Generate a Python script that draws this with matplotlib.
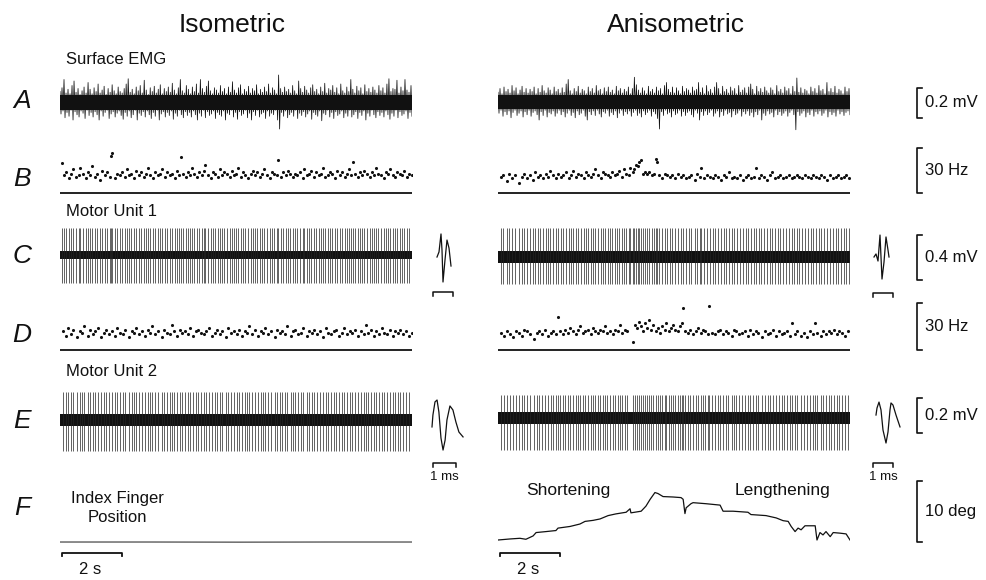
import numpy as np
import matplotlib
matplotlib.use("Agg")
import matplotlib.pyplot as plt

plt.rcParams['font.family'] = ['Liberation Sans', 'DejaVu Sans']

# ---------------- data ----------------
T = 11.73  # s, duration of each record

# Surface EMG stroke extremes (uV), isometric / anisometric
A_iso_up = [70,95,150,60,85,55,110,140,65,90,50,75,100,60,130,85,
            55,95,70,120,60,80,105,50,90,65,115,75,55,100,70,60,
            90,120,155,65,85,55,100,75,110,60,145,80,50,95,70,105,
            60,85,115,55,90,70,100,65,125,80,55,95,150,75,60,110,
            85,55,100,70,120,60,150,90,65,105,140,75,55,95,80,60,
            110,70,90,55,100,65,135,80,60,95,115,55,85,70,105,60,
            90,75,115,55,85,65,100,70,120,60,95,80,55,180,90,65,
            100,70,85,60,110,75,55,140,90,65,105,80,60,95,115,70,
            85,55,100,70,125,60,90,80,110,65,95,55,120,75,60,100,
            70,150,85,60,105,75,95,55,115,70,90,65,100,80,60,110,
            75,95,60,120,155,70,90,85,145,60,100,75,150,80,65,110]
A_iso_dn = [80,60,105,70,95,55,120,65,85,100,60,75,110,55,90,70,
            100,65,85,120,60,95,70,55,110,80,65,100,75,60,90,115,
            70,95,60,105,85,55,120,75,90,65,100,60,85,110,70,95,
            55,120,80,65,100,70,90,60,115,75,95,55,85,105,65,90,
            70,100,60,85,120,75,95,55,105,65,90,80,60,110,70,85,
            95,60,120,75,85,55,100,70,115,65,90,80,55,105,75,120,
            65,90,55,100,80,70,110,60,95,75,85,55,120,180,70,95,
            60,105,85,70,95,55,110,75,90,65,100,80,60,115,70,85,
            95,60,125,75,85,55,100,70,110,65,90,80,60,105,75,95,
            55,100,85,65,110,70,90,60,120,75,95,55,85,105,65,90,
            70,100,60,85,115,75,95,55,105,65,90,80,60,110,70,95]
A_aniso_up = [65,90,55,100,70,85,60,110,75,95,55,80,105,65,90,60,
              85,70,100,55,90,65,110,75,60,95,80,55,100,70,85,60,
              95,65,120,150,75,55,90,70,105,60,85,75,55,100,70,90,
              60,110,75,85,55,95,70,100,65,80,55,105,75,90,60,85,
              70,100,55,90,165,115,80,60,95,75,55,105,70,85,60,100,
              75,90,55,110,130,85,65,100,60,95,75,55,105,70,90,80,
              60,100,75,85,130,65,95,55,110,70,85,60,100,130,90,55,
              105,70,85,60,100,75,90,55,110,65,80,95,60,100,120,85,
              55,105,70,90,65,100,75,60,95,80,55,110,70,85,60,100,
              75,90,55,105,70,160,65,95,60,85,75,55,100,70,90,60,
              110,75,85,55,130,70,90,65,105,60,85,75,55,100,70,90]
A_aniso_dn = [75,55,95,65,85,60,105,70,55,90,75,60,100,65,85,55,
              95,70,60,85,120,65,90,55,100,70,80,60,95,75,55,85,
              65,100,75,55,90,70,105,60,85,75,55,95,120,65,85,60,
              90,55,80,100,65,75,55,95,70,85,60,105,75,55,90,65,
              80,60,95,70,55,90,75,100,60,85,70,55,95,65,80,110,
              180,65,90,55,80,70,100,60,85,75,55,95,65,90,70,60,
              85,100,55,75,120,65,90,60,85,70,55,95,75,60,100,65,
              90,55,80,70,100,60,85,75,55,95,65,80,60,90,70,100,
              65,85,55,120,75,90,60,80,70,100,55,85,65,90,75,60,
              95,70,55,85,185,65,90,75,60,100,70,85,55,95,65,80,
              60,90,75,55,100,65,85,70,95,55,80,65,90,70,60,85]

# Instantaneous discharge rates (Hz) of motor unit 1 (B) and motor unit 2 (D)
B_iso = [20,12,14,10,13,16,11,12,17,13, 10,14,12,18,11,13,9,15,12,14,
         11,25,27,10,13,12,14,11,16,12, 13,10,15,12,14,11,13,17,12,10,
         14,12,13,16,11,14,12,13,10,15, 12,24,13,11,14,12,17,13,11,14,
         12,15,19,12,10,14,13,11,16,12, 14,13,11,15,12,13,17,11,14,12,
         10,13,15,12,14,11,13,16,12,10, 14,13,12,22,11,14,12,15,13,11,
         13,12,14,10,16,12,13,15,11,14, 12,13,17,11,12,14,13,10,15,12,
         14,11,13,16,12,21,13,11,14,12, 15,13,11,14,12,17,13,12,10,14,
         13,16,12,11,14,13,12,15,11,13, 12,14,13,11,15,12,13,14,12,13]
B_aniso = [11,12,8,13,10,12,7,11,13,10, 12,9,14,11,12,10,13,11,15,12,
           10,13,11,12,14,10,12,15,11,13, 12,10,14,12,11,13,16,12,10,14,
           13,12,11,14,12,13,15,11,16,13, 12,17,14,16,19,18,21,22,13,14,
           13,14,12,13,23,21,12,10,13,12, 11,12,10,13,11,12,10,11,12,9,
           13,11,17,10,12,11,10,12,11,9, 12,11,14,10,11,10,12,9,11,12,
           10,11,17,10,12,11,9,12,14,10, 11,12,10,11,12,10,11,12,11,10,
           12,11,10,12,11,10,12,11,9,12, 10,11,12,10,11,12,10,11,12,11]
D_iso = [12,9,14,10,13,8,12,11,15,9, 13,10,12,14,8,11,13,10,12,9,
         14,11,10,13,8,12,11,14,10,12, 9,13,11,15,10,12,8,13,11,10,
         16,12,9,13,11,12,10,14,9,12, 13,11,10,12,14,9,11,13,10,12,
         8,14,11,12,10,13,9,12,11,15, 10,13,9,12,11,14,10,12,8,13,
         11,12,10,15,9,12,13,10,11,14, 9,12,11,13,10,12,8,14,11,10,
         12,13,9,11,14,10,12,11,13,9, 12,10,16,11,13,9,12,10,14,11,
         10,13,9,12,11,13,10,12,9,11, 12,10,13,11,9,12,10,11,13,10]
D_aniso = [11,9,12,10,8,12,11,9,13,12, 10,7,11,12,10,13,9,11,12,10,
           21,
           12,10,13,11,14,12,10,13,15,11, 12,13,10,14,12,11,13,12,15,11,
           12,10,13,12,16,11,13,12,
           5,
           16,14,18,15,12,17,14,19,13,16, 12,14,11,15,13,17,12,14,16,13,
           12,15,17,
           27,
           12,11,13,10,12,14,11,13,12,10,
           28,
           11,10,12,13,10,12,11,9,13,12, 10,11,12,9,13,10,12,11,8,12,
           10,11,13,9,12,10,11,12,9,
           17,
           10,12,9,11,8,12,10,
           17,
           11,9,12,10,12,11,13,10,12,11, 9,12,10,11]

# Spike extremes in the records (mV): (peak, trough)
C_iso_spike = (0.24, -0.25)
C_aniso_spike = (0.26, -0.24)
E_iso_spike = (0.16, -0.177)
E_aniso_spike = (0.13, -0.18)
noise_C = (0.035, 0.05)   # background band half-width (mV) iso / aniso
noise_E = (0.034, 0.034)
noise_A = (0.05, 0.045)

# Averaged action-potential templates (ms, mV)
tmpC_iso_t = [0, 0.1, 0.2, 0.25, 0.3, 0.4, 0.5, 0.6, 0.7]
tmpC_iso_v = [-0.018, 0.027, 0.187, 0.044, -0.24, -0.044, 0.133, 0.062, -0.098]
tmpC_an_t = [0, 0.1, 0.2, 0.3, 0.4, 0.5, 0.6, 0.7, 0.75]
tmpC_an_v = [0.009, 0.036, -0.027, 0.204, -0.187, -0.036, 0.187, 0.071, 0.009]
tmpE_iso_t = [0, 0.04, 0.13, 0.22, 0.3, 0.39, 0.48, 0.57, 0.65, 0.78, 0.91, 1.04, 1.17, 1.35]
tmpE_iso_v = [-0.034, 0.034, 0.109, 0.12, 0.051, -0.097, -0.166, -0.109, 0.006, 0.086, 0.063, -0.006, -0.063, -0.091]
tmpE_an_t = [0, 0.05, 0.15, 0.25, 0.35, 0.5, 0.6, 0.7, 0.75, 0.85, 1.0, 1.2]
tmpE_an_v = [0.017, 0.057, 0.091, 0.046, -0.069, -0.143, -0.08, 0.046, 0.086, 0.074, 0.017, -0.051]

# Index finger position (deg)
F_iso_t = [0, 3, 6, 9, 11.73]
F_iso_v = [-0.33, -0.33, -0.35, -0.33, -0.33]
F_an_t = [0, 0.4, 0.73, 0.93, 1.17, 1.27, 1.6, 1.93, 2.0, 2.4, 2.73, 2.9, 3.17, 3.4, 3.67,
          3.93, 4.27, 4.4, 4.43, 4.77, 4.93, 5.07, 5.23, 5.33, 5.5, 5.83, 6.1, 6.17, 6.23,
          6.27, 6.43, 6.5, 6.93, 7.4, 7.5, 7.83, 8.33, 8.43, 8.93, 9.27, 9.5, 9.67, 9.77,
          9.9, 10.0, 10.1, 10.23, 10.57, 10.63, 10.73, 10.83, 10.93, 11.07, 11.17, 11.4,
          11.6, 11.73]
F_an_v = [0, 0.17, 0.28, 0.12, 0.67, 1.22, 1.38, 1.55, 1.95, 2.22, 2.62, 3.05, 3.22, 3.45,
          4.0, 4.28, 4.55, 5.12, 4.45, 4.72, 5.55, 6.67, 7.78, 7.62, 7.12, 7.05, 6.95, 6.67,
          4.33, 5.28, 5.95, 6.12, 5.95, 5.72, 4.72, 4.72, 4.55, 4.17, 4.0, 3.62, 3.17, 3.05,
          2.22, 1.38, 1.95, 1.67, 2.33, 2.33, 0.0, 1.22, 0.83, 1.38, 0.55, 1.22, 1.12, 1.0, 0.0]

# ---------------- figure ----------------
W, H = 986, 580
fig = plt.figure(figsize=(W / 100, H / 100), dpi=100)
INK = '#111111'


def ax_px(x0, y0, x1, y1):
    ax = fig.add_axes([x0 / W, 1 - y1 / H, (x1 - x0) / W, (y1 - y0) / H])
    ax.axis('off')
    return ax


def row_ax(x0, x1, y0, y1, yc, s, xlim=(0, T)):
    ax = ax_px(x0, y0, x1, y1)
    ax.set_xlim(*xlim)
    ax.set_ylim((yc - y1) / s, (yc - y0) / s)
    return ax


def spike_times(rates):
    t = np.cumsum(1.0 / np.asarray(rates, float))
    r = np.asarray(rates, float)
    keep = t <= T
    return t[keep], r[keep]


LX = (60, 412)
RX = (498, 850)

# --- A: surface EMG
for (x0, x1), up, dn, core in [(LX, A_iso_up, A_iso_dn, noise_A[0]),
                               (RX, A_aniso_up, A_aniso_dn, noise_A[1])]:
    ax = row_ax(x0, x1, 70, 135, 102, 150)
    n = min(len(up), len(dn))
    y = np.empty(2 * n)
    y[0::2] = np.asarray(up[:n]) / 1000
    y[1::2] = -np.asarray(dn[:n]) / 1000
    x = np.linspace(0, T, 2 * n)
    ax.fill_between([0, T], -core, core, color=INK, lw=0)
    ax.plot(x, y, color=INK, lw=0.55)

# --- B and D: discharge rates
for (x0, x1), rates, yb, s in [(LX, B_iso, 193, 1.5), (RX, B_aniso, 193, 1.5),
                               (LX, D_iso, 350, 1.567), (RX, D_aniso, 350, 1.567)]:
    ax = row_ax(x0, x1, yb - 50, yb + 3, yb, s)
    t, r = spike_times(rates)
    ax.scatter(t, r, s=5, color=INK, lw=0)
    ax.plot([0, T], [0, 0], color=INK, lw=1.3, solid_capstyle='butt')

# --- C and E: motor unit records
for (x0, x1), rates, yc, s, sp, core in [
        (LX, B_iso, 255, 112.5, C_iso_spike, noise_C[0]),
        (RX, B_aniso, 257, 112.5, C_aniso_spike, noise_C[1]),
        (LX, D_iso, 420, 175, E_iso_spike, noise_E[0]),
        (RX, D_aniso, 418, 175, E_aniso_spike, noise_E[1])]:
    ax = row_ax(x0, x1, yc - 35, yc + 38, yc, s)
    t, _ = spike_times(rates)
    ax.fill_between([0, T], -core, core, color=INK, lw=0)
    ax.vlines(t, sp[1], sp[0], color='#222222', lw=0.5)

# --- templates with 1 ms bars
for tt, vv, x0, yc, s, pxms, bar_x, bar_y, show_lbl in [
        (tmpC_iso_t, tmpC_iso_v, 437, 255, 112.5, 20, 433, 292, False),
        (tmpC_an_t, tmpC_an_v, 874, 258, 112.5, 20, 873, 293, False),
        (tmpE_iso_t, tmpE_iso_v, 432, 421, 175, 23, 433, 463, True),
        (tmpE_an_t, tmpE_an_v, 876, 418, 175, 20, 873, 463, True)]:
    ax = ax_px(x0 - 8, yc - 40, x0 + 32, yc + 60)
    ax.set_xlim(-8 / pxms, 32 / pxms)
    ax.set_ylim(-60 / s, 40 / s)
    ax.plot(tt, vv, color=INK, lw=0.9)
    b0 = (bar_x - x0) / pxms
    vb = (yc - bar_y) / s
    tick = 4 / s
    ax.plot([b0, b0, b0 + 1, b0 + 1], [vb - tick, vb, vb, vb - tick], color=INK, lw=1.1,
            clip_on=False)
    if show_lbl:
        ax.text(b0 + 0.5, vb - 14 / s, '1 ms', ha='center', va='center', fontsize=9.5,
                color=INK, clip_on=False)

# --- F: finger position
axFl = row_ax(LX[0], LX[1], 470, 548, 540, 6.1)
axFl.plot(F_iso_t, F_iso_v, color='#333333', lw=0.8)
axFr = row_ax(RX[0], RX[1], 470, 548, 540, 6.1)
axFr.plot(F_an_t, F_an_v, color=INK, lw=0.9)

# time bars
for x0 in (LX[0], RX[0]):
    ax = ax_px(x0, 548, x0 + 352, 580)
    ax.set_xlim(0, T)
    ax.set_ylim(32, 0)
    ax.plot([0.07, 0.07, 2.07, 2.07], [8, 5, 5, 8], color=INK, lw=1.3)
    ax.text(1.0, 21, '2 s', ha='center', va='center', fontsize=12, color=INK)

# --- scale brackets at right
for y0, y1, yc, s, v0, L, lbl in [
        (70, 135, 102, 150, -0.105, 0.2, '0.2 mV'),
        (140, 196, 193, 1.5, 0, 30, '30 Hz'),
        (222, 295, 257, 112.5, -0.2, 0.4, '0.4 mV'),
        (298, 353, 350, 1.567, 0, 30, '30 Hz'),
        (385, 456, 418, 175, -0.086, 0.2, '0.2 mV'),
        (470, 548, 540, 6.1, -0.3, 10, '10 deg')]:
    ax = row_ax(905, 990, y0, y1, yc, s, xlim=(905, 990))
    ax.plot([922, 917, 917, 922], [v0, v0, v0 + L, v0 + L], color=INK, lw=1.2,
            clip_on=False)
    ax.text(925, v0 + L / 2, lbl, ha='left', va='center', fontsize=12, color=INK)

# --- texts
tx = fig.add_axes([0, 0, 1, 1])
tx.axis('off')
tx.set_xlim(0, W)
tx.set_ylim(H, 0)
tx.text(232, 25, 'Isometric', ha='center', va='center', fontsize=19, color=INK)
tx.text(676, 25, 'Anisometric', ha='center', va='center', fontsize=19, color=INK)
tx.text(66, 60, 'Surface EMG', ha='left', va='center', fontsize=12, color=INK)
tx.text(66, 212, 'Motor Unit 1', ha='left', va='center', fontsize=12, color=INK)
tx.text(66, 372, 'Motor Unit 2', ha='left', va='center', fontsize=12, color=INK)
tx.text(117, 508, 'Index Finger\nPosition', ha='center', va='center', fontsize=12,
        color=INK, linespacing=1.25)
tx.text(568, 491, 'Shortening', ha='center', va='center', fontsize=12.5, color=INK)
tx.text(782, 491, 'Lengthening', ha='center', va='center', fontsize=12.5, color=INK)
for letter, y in zip('ABCDEF', [101, 179, 256, 335, 421, 508]):
    tx.text(22, y, letter, ha='center', va='center', fontsize=19, style='italic',
            color=INK)

fig.savefig('out.png', dpi=100)
